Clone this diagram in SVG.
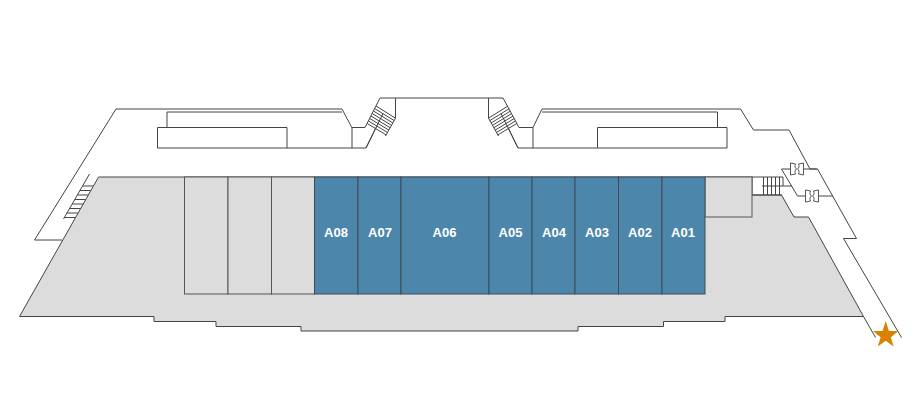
<svg xmlns="http://www.w3.org/2000/svg" xmlns:xlink="http://www.w3.org/1999/xlink" width="920" height="400" viewBox="0 0 920 400">
<style>
.l{fill:none;stroke:#444;stroke-width:1}
.w{fill:#fff;stroke:#555;stroke-width:1}
.f{fill:#dcdcdc;stroke:#444;stroke-width:1}
.c{fill:#dcdcdc;stroke:#555;stroke-width:1}
.b{fill:#4d86ab;stroke:#3f4c58;stroke-width:1}
.t{font-family:"Liberation Sans",Arial,sans-serif;font-size:13px;font-weight:700;fill:#fff;text-anchor:middle}
</style>
<defs>
<g id="stair">
<path class="l" d="M376,106L395.5,118.2M374.7,108.6L394.2,120.6M373.5,111L392.9,123M372.2,113.5L391.6,125.4M371,116L390.3,127.8M369.7,118.5L389,130.2M368.5,121L387.7,132.6M367.2,123.5L386.4,135"/>
<path class="l" d="M383,113.5L366,148M395.5,118.2L385.5,136"/>
</g>
<g id="valve">
<path class="w" d="M0.5,0.5L5.5,1.5C4.5,4 4.8,5 6.5,6.5C4.8,8 4.5,9 5.5,11.5L0.5,12.5Z"/>
<path class="w" d="M13.5,0.5L8.5,1.5C9.5,4 9.2,5 7.5,6.5C9.2,8 9.5,9 8.5,11.5L13.5,12.5Z"/>
</g>
</defs>
<g id="outline">
<path class="l" d="M62,240H34.5L116,109H342L351.8,127.5H365L380,98H503L519,127.5H533L542,109H740.5L753.5,130H789L810,169H817.5L856.5,238.5H843.5L901.5,337.5"/>
<path class="l" d="M352,127.5V148H366M518,148H533V127.5"/>
<path class="l" d="M395.5,98V118M488.5,98V118"/>
<path class="l" d="M167,127.5V112H342M542,112H717.5V127.5"/>
<path class="l" d="M157.5,127.5H287V148H157.5ZM597.5,127.5H727V148H597.5ZM287,148H352M533,148H597.5"/>
<path class="l" d="M366,148L376,127.5M518,148L508,127.5"/>
</g>
<g id="stairs-left"><use xlink:href="#stair" href="#stair"/></g>
<g id="stairs-right"><use xlink:href="#stair" href="#stair" transform="translate(884,0) scale(-1,1)"/></g>
<g id="floor">
<path class="f" d="M98.5,177L19.5,316.5H154V321.5H216V326.5H301V331H578V326.5H663.5V321.5H725V316.5H863.5L808.5,217H794L781.5,195H752V177Z"/>
<path class="l" d="M863.5,316.5L875.5,337.5"/>
</g>
<g id="stairs-west">
<path class="l" d="M89.5,174L63.5,219"/>
<path class="l" d="M82.6,186H93.2M79.9,190.5H90.6M77.4,195H88.1M74.9,199.5H85.6M72.2,204H83.1M69.6,208.5H80.5M66.8,213H78M64.5,217.5H75.5"/>
</g>
<g id="stairs-east">
<path class="l" d="M752,177H783M762,186H792M752,195H782"/>
<path class="l" d="M763.5,177V195M767.5,177V195M771.5,177V195M775.5,177V195M779.5,177V195M783,177V186"/>
</g>
<g id="corridor-east">
<path class="l" d="M817,169H804M790,169H781.5L797.5,196H805M819,196H833"/>
</g>
<use id="valve-1" xlink:href="#valve" href="#valve" x="790" y="162.5"/>
<use id="valve-2" xlink:href="#valve" href="#valve" x="805" y="189.5"/>
<g id="cell-grey-1"><rect class="c" x="184.5" y="177" width="43.5" height="117"/></g>
<g id="cell-grey-2"><rect class="c" x="228" y="177" width="43.5" height="117"/></g>
<g id="cell-grey-3"><rect class="c" x="271.5" y="177" width="43" height="117"/></g>
<g id="cell-grey-4"><rect class="c" x="705" y="177" width="47" height="40"/></g>
<g id="A08"><rect class="b" x="314.5" y="177" width="43.5" height="117"/><text class="t" x="336" y="237">A08</text></g>
<g id="A07"><rect class="b" x="358" y="177" width="43" height="117"/><text class="t" x="380" y="237">A07</text></g>
<g id="A06"><rect class="b" x="401" y="177" width="88" height="117"/><text class="t" x="444.5" y="237">A06</text></g>
<g id="A05"><rect class="b" x="489" y="177" width="43" height="117"/><text class="t" x="510.5" y="237">A05</text></g>
<g id="A04"><rect class="b" x="532" y="177" width="43" height="117"/><text class="t" x="554" y="237">A04</text></g>
<g id="A03"><rect class="b" x="575" y="177" width="43.5" height="117"/><text class="t" x="597" y="237">A03</text></g>
<g id="A02"><rect class="b" x="618.5" y="177" width="43.5" height="117"/><text class="t" x="640" y="237">A02</text></g>
<g id="A01"><rect class="b" x="662" y="177" width="43" height="117"/><text class="t" x="683" y="237">A01</text></g>
<g id="location-star"><polygon fill="#d98200" points="885.7,321 888.9,331 898.5,331 890.8,337.2 893.6,346.5 885.7,340.8 877.8,346.5 880.6,337.2 873,331 882.5,331"/></g>
</svg>
